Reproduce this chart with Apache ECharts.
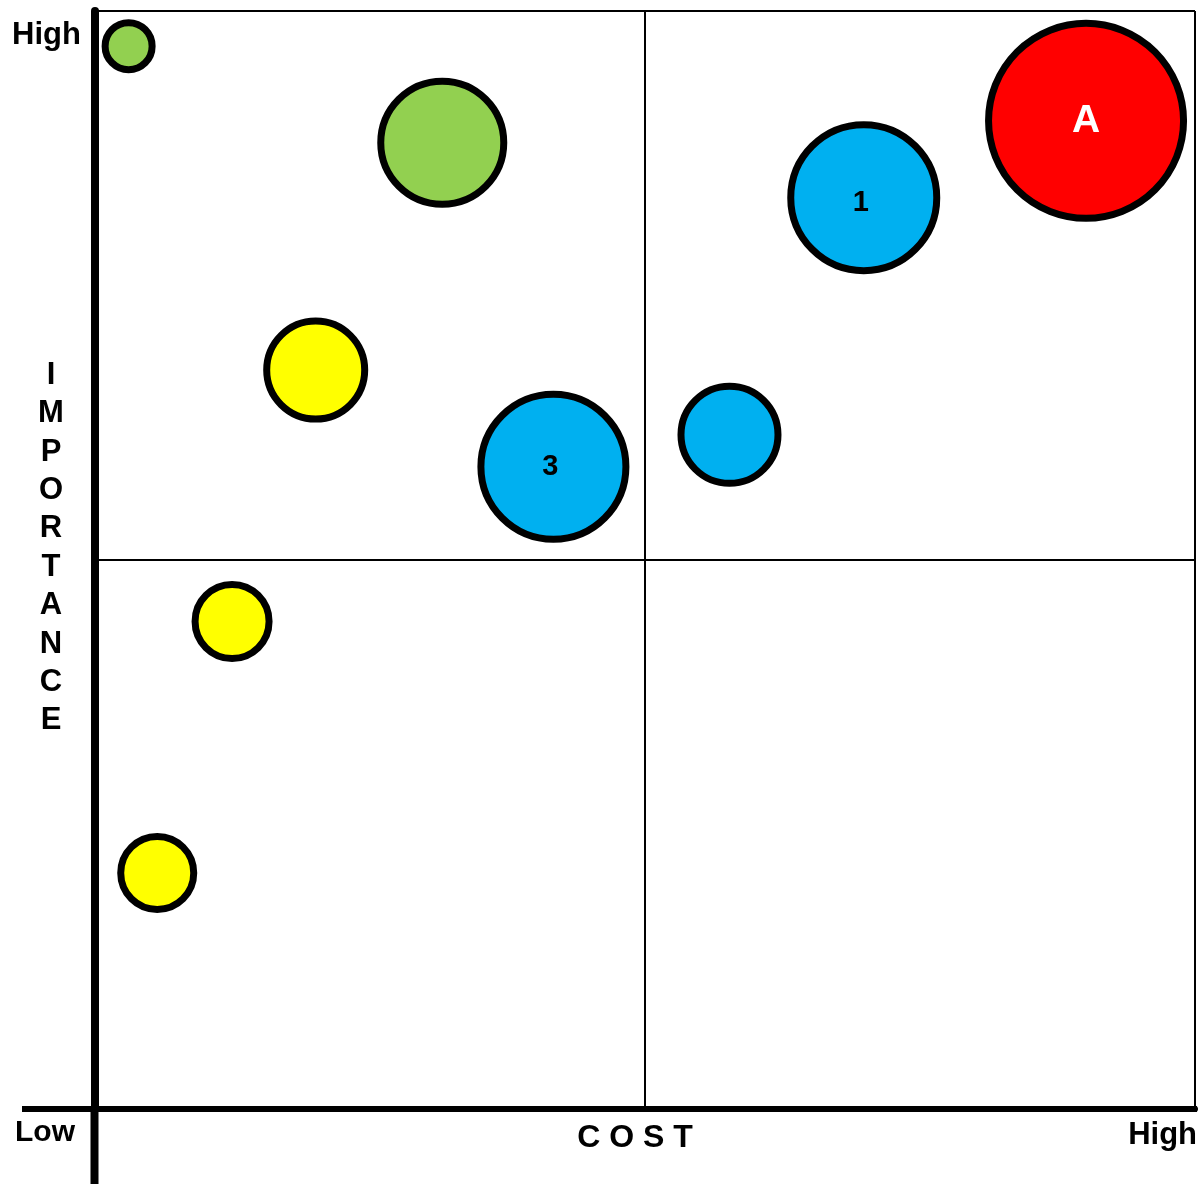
<!DOCTYPE html>
<html>
<head>
<meta charset="utf-8">
<script src="https://cdn.jsdelivr.net/npm/echarts@6/dist/echarts.min.js"></script>
<style>
html,body{margin:0;padding:0;background:#fff;}
#chart{width:1203px;height:1184px;}
</style>
</head>
<body>
<div id="chart"></div>
<script>
// Data (cost 0-100, importance 0-100)
var names      = ['g1', 'g2', 'y1', 'b3', 'b2', 'b1', 'rA', 'y2', 'y3'];
var costValues = [3.1, 31.6, 20.1, 41.7, 57.7, 69.9, 90.1, 12.5, 5.7];
var importanceValues = [96.8, 88.0, 67.3, 58.5, 61.4, 83.0, 90.0, 44.4, 21.5];
var bubbleSizes = [47, 123, 98, 145, 97, 146, 195, 74, 73];
var bubbleColors = ['#92D050', '#92D050', '#FFFF00', '#00B0F0', '#00B0F0', '#00B0F0', '#FF0000', '#FFFF00', '#FFFF00'];
var bubbleLabels = ['', '', '', '3', '', '1', 'A', '', ''];
var labelColors  = ['#000', '#000', '#000', '#000', '#000', '#000', '#fff', '#000', '#000'];
var labelSizes   = [29, 29, 29, 29, 29, 29, 39, 29, 29];
var labelOffsets = [[0,0],[0,0],[0,0],[-3,0],[0,0],[-3,5],[0,0],[0,0],[0,0]];
var axisTickValues = [0, 50, 100];
var xEndLabels = ['Low', 'High'];
var yEndLabel = 'High';
var xAxisTitle = 'C O S T';
var yAxisTitle = 'IMPORTANCE';

var FONT = '"Liberation Sans", Arial, sans-serif';

var seriesData = names.map(function (n, i) {
  return {
    name: n,
    value: [costValues[i], importanceValues[i]],
    symbolSize: bubbleSizes[i],
    itemStyle: { color: bubbleColors[i], borderColor: '#000', borderWidth: 7, opacity: 1 },
    label: {
      show: bubbleLabels[i] !== '',
      formatter: bubbleLabels[i],
      color: labelColors[i],
      fontSize: labelSizes[i],
      fontWeight: 'bold',
      fontFamily: FONT,
      position: 'inside',
      offset: labelOffsets[i],
      opacity: 1
    }
  };
});

var chart = echarts.init(document.getElementById('chart'), null, { renderer: 'canvas' });
chart.setOption({
  animation: false,
  backgroundColor: '#fff',
  grid: { left: 94.5, right: 8, top: 11, bottom: 75, containLabel: false },
  xAxis: {
    type: 'value', min: axisTickValues[0], max: axisTickValues[2], interval: axisTickValues[1],
    axisLine: { show: true, onZero: false, lineStyle: { color: '#000', width: 6 } },
    axisTick: { show: false },
    axisLabel: { show: false },
    splitLine: { show: true, lineStyle: { color: '#000', width: 2 } }
  },
  yAxis: {
    type: 'value', min: axisTickValues[0], max: axisTickValues[2], interval: axisTickValues[1],
    axisLine: { show: true, onZero: false, lineStyle: { color: '#000', width: 8 } },
    axisTick: { show: false },
    axisLabel: { show: false },
    splitLine: { show: true, lineStyle: { color: '#000', width: 2 } }
  },
  series: [{
    type: 'scatter',
    symbol: 'circle',
    data: seriesData,
    itemStyle: { opacity: 1 },
    emphasis: { disabled: true },
    z: 5
  }],
  graphic: [
    // axis line extensions beyond the plot
    { type: 'line', shape: { x1: 94.5, y1: 1106, x2: 94.5, y2: 1184 }, style: { stroke: '#000', lineWidth: 8 }, z: 10 },
    { type: 'line', shape: { x1: 22, y1: 1109, x2: 97, y2: 1109 }, style: { stroke: '#000', lineWidth: 6 }, z: 10 },
    { type: 'line', shape: { x1: 1192, y1: 1109, x2: 1197, y2: 1109 }, style: { stroke: '#000', lineWidth: 6 }, z: 10 },
    { type: 'text', x: 12, y: 35, style: { text: yEndLabel, font: 'bold 31px ' + FONT, fill: '#000', textAlign: 'left', textVerticalAlign: 'middle' }, z: 10 },
    { type: 'text', x: 15, y: 1133, style: { text: xEndLabels[0], font: 'bold 30px ' + FONT, fill: '#000', textAlign: 'left', textVerticalAlign: 'middle' }, z: 10 },
    { type: 'text', x: 1197, y: 1135, style: { text: xEndLabels[1], font: 'bold 31px ' + FONT, fill: '#000', textAlign: 'right', textVerticalAlign: 'middle' }, z: 10 },
    { type: 'text', x: 635, y: 1138, style: { text: xAxisTitle, font: 'bold 32px ' + FONT, fill: '#000', textAlign: 'center', textVerticalAlign: 'middle' }, z: 10 },
    { type: 'text', x: 51, y: 548, style: { text: yAxisTitle.split('').join('\n'), font: 'bold 31px ' + FONT, lineHeight: 38.4, fill: '#000', textAlign: 'center', textVerticalAlign: 'middle' }, z: 10 }
  ]
});
</script>
</body>
</html>
